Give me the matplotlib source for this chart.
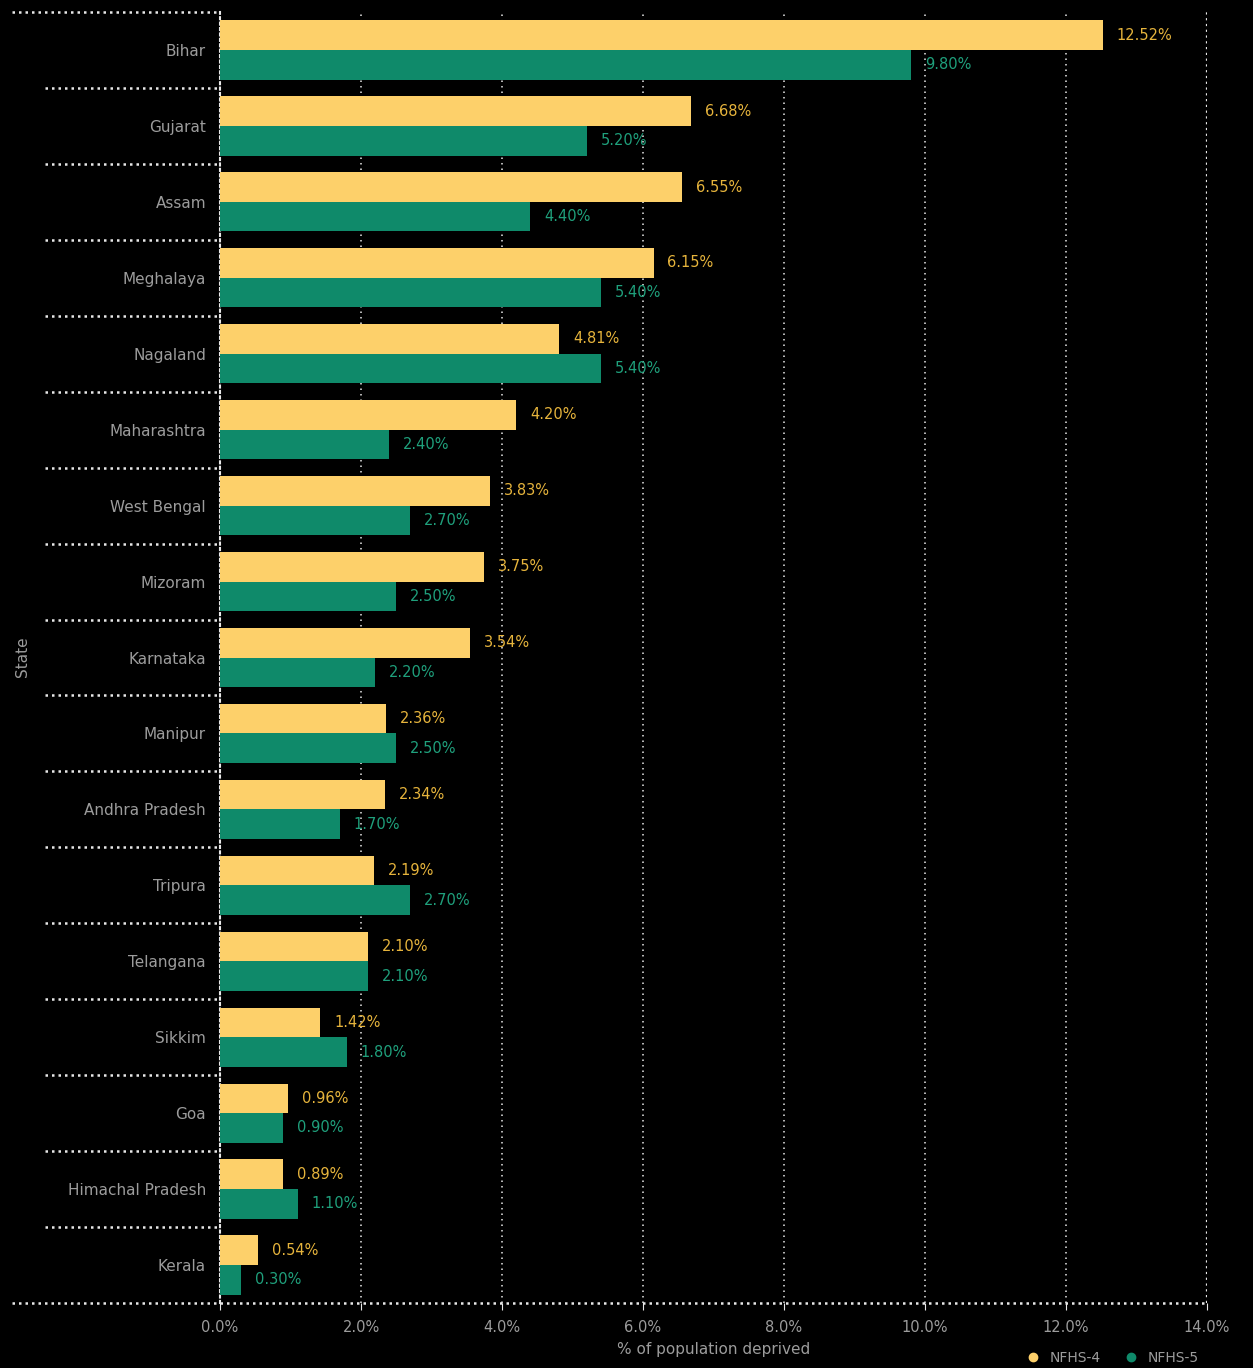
import matplotlib
matplotlib.use("Agg")
import matplotlib.pyplot as plt
from matplotlib.lines import Line2D
import numpy as np

states = ["Bihar", "Gujarat", "Assam", "Meghalaya", "Nagaland", "Maharashtra",
          "West Bengal", "Mizoram", "Karnataka", "Manipur", "Andhra Pradesh",
          "Tripura", "Telangana", "Sikkim", "Goa", "Himachal Pradesh", "Kerala"]
nfhs4 = [12.52, 6.68, 6.55, 6.15, 4.81, 4.20, 3.83, 3.75, 3.54, 2.36, 2.34,
         2.19, 2.10, 1.42, 0.96, 0.89, 0.54]
nfhs5 = [9.80, 5.20, 4.40, 5.40, 5.40, 2.40, 2.70, 2.50, 2.20, 2.50, 1.70,
         2.70, 2.10, 1.80, 0.90, 1.10, 0.30]
series_names = ["NFHS-4", "NFHS-5"]
xticks = [0, 2, 4, 6, 8, 10, 12, 14]

BG = "#000000"
YELLOW = "#fdd06a"
GREEN = "#0f8a6a"
YELLOW_TXT = "#e6b43c"
GREEN_TXT = "#1fa07c"
TXT = "#9c9c9c"
LINE = "#e8e8e8"
DOT = (0, (1, 1.6))
GRID_DOT = (0, (1, 2.6))

W, H = 1253, 1368
fig = plt.figure(figsize=(W / 100, H / 100), dpi=100, facecolor=BG)
left, right, top, bottom = 220, 1207, 12, 1303
ax = fig.add_axes([left / W, (H - bottom) / H, (right - left) / W, (bottom - top) / H])
ax.set_facecolor(BG)

n = len(states)
y = np.arange(n)
bh = 0.39
ax.barh(y - 0.195, nfhs4, height=bh, color=YELLOW, zorder=3)
ax.barh(y + 0.195, nfhs5, height=bh, color=GREEN, zorder=3)

for yi, v in zip(y, nfhs4):
    ax.annotate(f"{v:.2f}%", (v, yi - 0.195), xytext=(10, 0), textcoords="offset points",
                va="center", ha="left", color=YELLOW_TXT, fontsize=10.5)
for yi, v in zip(y, nfhs5):
    ax.annotate(f"{v:.2f}%", (v, yi + 0.195), xytext=(10, 0), textcoords="offset points",
                va="center", ha="left", color=GREEN_TXT, fontsize=10.5)

ax.set_xlim(0, 14)
ax.set_ylim(n - 0.5, -0.5)
ax.set_xticks(xticks)
ax.set_xticklabels([f"{t:.1f}%" for t in xticks], color=TXT, fontsize=10.5)
ax.set_yticks(y)
ax.set_yticklabels(states, color=TXT, fontsize=11)
ax.tick_params(axis="y", length=0, pad=10)
ax.tick_params(axis="x", length=5, color=LINE, pad=7)

# vertical dotted grid
for t in xticks[1:-1]:
    ax.axvline(t, color=LINE, linestyle=GRID_DOT, linewidth=1.1, zorder=1)
ax.axvline(xticks[-1], color=LINE, linestyle=DOT, linewidth=1.6, zorder=1)

for s in ["top", "right", "bottom"]:
    ax.spines[s].set_visible(False)
ax.spines["left"].set_color(LINE)
ax.spines["left"].set_linestyle(DOT)
ax.spines["left"].set_linewidth(1.5)

# category separators extending into the label area
ytr = ax.get_yaxis_transform()
x_sep = (45 - left) / (right - left)
x_edge = (12 - left) / (right - left)
for b in np.arange(0.5, n - 0.5, 1.0):
    ax.plot([x_sep, 0], [b, b], transform=ytr, color=LINE, linestyle=DOT,
            linewidth=1.8, clip_on=False, zorder=4)
ax.plot([x_edge, 0], [-0.5, -0.5], transform=ytr, color=LINE, linestyle=DOT,
        linewidth=1.8, clip_on=False, zorder=4)
ax.plot([x_edge, 1], [n - 0.5, n - 0.5], transform=ytr, color=LINE, linestyle=DOT,
        linewidth=1.8, clip_on=False, zorder=4)

ax.set_xlabel("% of population deprived", color=TXT, fontsize=11, labelpad=5)
fig.text(22 / W, 1 - 657 / H, "State", rotation=90, color=TXT, fontsize=11,
         ha="center", va="center")

handles = [Line2D([], [], marker="o", linestyle="", color=YELLOW, markersize=6),
           Line2D([], [], marker="o", linestyle="", color=GREEN, markersize=6)]
leg = fig.legend(handles, series_names, loc="center right", bbox_to_anchor=(1206 / W, 10 / H),
                 ncol=2, frameon=False, fontsize=10, handletextpad=0.2, columnspacing=1.2,
                 borderpad=0.0)
for t in leg.get_texts():
    t.set_color(TXT)

fig.savefig("out.png", dpi=100, facecolor=BG)
